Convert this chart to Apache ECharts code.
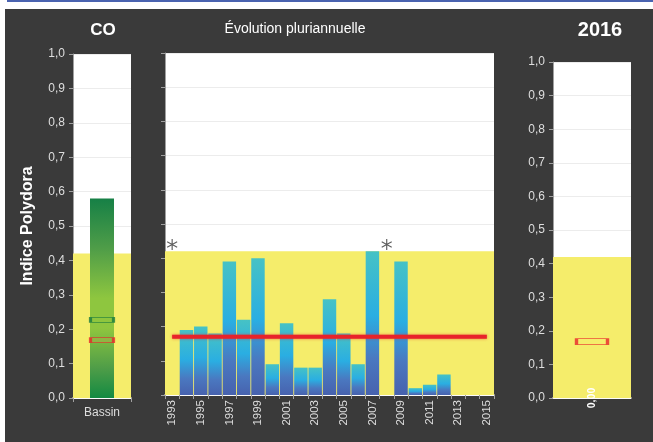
<!DOCTYPE html>
<html>
<head>
<meta charset="utf-8">
<script src="https://cdn.jsdelivr.net/npm/echarts@6/dist/echarts.min.js"></script>
<style>
html,body{margin:0;padding:0;background:#fff;}
#chart{width:653px;height:442px;}
</style>
</head>
<body>
<div id="chart"></div>
<script>
// ---- data ----
const years = ['1993','1994','1995','1996','1997','1998','1999','2000','2001','2002','2003','2004','2005','2006','2007','2008','2009','2010','2011','2012','2013','2014','2015'];
const annualValues = [null,0.19,0.20,0.18,0.39,0.22,0.40,0.09,0.21,0.08,0.08,0.28,0.18,0.09,0.42,null,0.39,0.02,0.03,0.06,null,null,null];
const missingYears = ['1993','2008'];
const missingMarkerLevel = 0.44;
const medianValue = 0.17;
const thresholdValue = 0.42;
const basinCategories = ['Bassin'];
const basinBar = [0.58];
const basinGreenMark = [0.227];
const basinRedMark = [0.168];
const currentCategories = [''];
const currentValue = [0.00];
const currentRedMark = [0.168];

const chart = echarts.init(document.getElementById('chart'));
const fmt1 = v => v.toFixed(1).replace('.', ',');
const yellow = '#f5ed6b';
const axisGrey = '#a0a0a0';
const labelCol = '#dedede';

function yAxisCfg(gi, showLabel, extra) {
  return Object.assign({
    gridIndex: gi, type: 'value', min: 0, max: 1, interval: 0.1,
    axisLine: {show: true, lineStyle: {color: axisGrey}},
    axisTick: {show: true, length: 4, lineStyle: {color: axisGrey}},
    axisLabel: {show: showLabel, color: labelCol, fontSize: 12, margin: 8, formatter: fmt1},
    splitLine: {show: true, lineStyle: {color: '#ececec', width: 1}}
  }, extra || {});
}

const barGradient = new echarts.graphic.LinearGradient(0, 0, 0, 1, [
  {offset: 0, color: '#46c2c5'},
  {offset: 0.45, color: '#2aaee2'},
  {offset: 0.75, color: '#4a78c0'},
  {offset: 1, color: '#4762ae'}
]);
const greenGradient = new echarts.graphic.LinearGradient(0, 0, 0, 1, [
  {offset: 0, color: '#168046'},
  {offset: 0.25, color: '#4f9d48'},
  {offset: 0.5, color: '#8ec63f'},
  {offset: 0.65, color: '#8ec63f'},
  {offset: 0.85, color: '#4f9d48'},
  {offset: 1, color: '#138a42'}
]);

const asteriskPath = 'path://M5,0 L5,10 M0.7,2.5 L9.3,7.5 M0.7,7.5 L9.3,2.5';

function band(xi, yi, n) {
  return {
    type: 'line', xAxisIndex: xi, yAxisIndex: yi, z: 1, silent: true,
    data: new Array(n).fill('-'), showSymbol: false, lineStyle: {width: 0},
    markArea: {silent: true, itemStyle: {color: yellow, opacity: 1}, data: [[{yAxis: 0}, {yAxis: thresholdValue}]]}
  };
}

const option = {
  animation: false,
  backgroundColor: '#fff',
  textStyle: {fontFamily: '"Liberation Sans", Arial, sans-serif'},
  graphic: [
    {type: 'rect', left: 7, top: 0, z: -10, shape: {width: 646, height: 2}, style: {fill: '#4a63b0'}},
    {type: 'rect', left: 5, top: 9, z: -10, shape: {width: 648, height: 433}, style: {fill: '#3a3a3a'}},
    {type: 'text', x: 103, y: 30, style: {text: 'CO', fill: '#fff', font: 'bold 17px "Liberation Sans", Arial', textAlign: 'center', textVerticalAlign: 'middle'}},
    {type: 'text', x: 295, y: 29, style: {text: 'Évolution pluriannuelle', fill: '#fff', font: '14px "Liberation Sans", Arial', textAlign: 'center', textVerticalAlign: 'middle'}},
    {type: 'text', x: 600, y: 30, style: {text: '2016', fill: '#fff', font: 'bold 20px "Liberation Sans", Arial', textAlign: 'center', textVerticalAlign: 'middle'}}
  ],
  grid: [
    {left: 73, top: 54, width: 58, height: 344, show: true, backgroundColor: '#fff', borderWidth: 0},
    {left: 165, top: 53, width: 329, height: 342, show: true, backgroundColor: '#fff', borderWidth: 0},
    {left: 553, top: 62, width: 78, height: 336, show: true, backgroundColor: '#fff', borderWidth: 0}
  ],
  xAxis: [
    {gridIndex: 0, type: 'category', data: basinCategories,
     axisLine: {lineStyle: {color: '#fff', width: 1.5}},
     axisTick: {show: true, length: 4, lineStyle: {color: axisGrey}},
     axisLabel: {color: labelCol, fontSize: 12, margin: 9}},
    {gridIndex: 1, type: 'category', data: years,
     axisLine: {lineStyle: {color: '#fff', width: 1.5}},
     axisTick: {show: true, interval: 0, length: 4, lineStyle: {color: axisGrey}},
     axisLabel: {color: labelCol, fontSize: 11.5, rotate: 90, interval: 1, margin: 5}},
    {gridIndex: 2, type: 'category', data: currentCategories,
     axisLine: {lineStyle: {color: '#fff', width: 1.5}},
     axisTick: {show: false}, axisLabel: {show: false}}
  ],
  yAxis: [
    yAxisCfg(0, true, {name: 'Indice Polydora', nameLocation: 'middle', nameGap: 37,
      nameTextStyle: {color: '#fff', fontSize: 16, fontWeight: 'bold'}}),
    yAxisCfg(1, false),
    yAxisCfg(2, true)
  ],
  series: [
    band(0, 0, 1),
    band(1, 1, years.length),
    band(2, 2, 1),
    {type: 'bar', xAxisIndex: 0, yAxisIndex: 0, z: 2, data: basinBar, barWidth: 24,
     itemStyle: {color: greenGradient}},
    {type: 'scatter', xAxisIndex: 0, yAxisIndex: 0, z: 4, data: basinGreenMark, symbol: 'rect', symbolSize: [23, 5],
     itemStyle: {color: '#8ec63f', borderColor: '#1a7a3e', borderWidth: 1.5}},
    {type: 'scatter', xAxisIndex: 0, yAxisIndex: 0, z: 4, data: basinRedMark, symbol: 'rect', symbolSize: [23, 5],
     itemStyle: {color: '#93b545', borderColor: '#e8262a', borderWidth: 1.5}},
    {type: 'bar', xAxisIndex: 1, yAxisIndex: 1, z: 2, data: annualValues.map(v => v === null ? '-' : v),
     barCategoryGap: '6%', itemStyle: {color: barGradient}},
    {type: 'line', xAxisIndex: 1, yAxisIndex: 1, z: 5, data: years.map(() => medianValue),
     showSymbol: false, symbol: 'none',
     lineStyle: {color: '#e8232a', width: 4, shadowBlur: 3, shadowColor: 'rgba(232,35,42,0.6)'}},
    {type: 'scatter', xAxisIndex: 1, yAxisIndex: 1, z: 5,
     data: years.map(y => missingYears.includes(y) ? missingMarkerLevel : '-'),
     symbol: asteriskPath, symbolSize: [10, 11],
     itemStyle: {color: 'rgba(0,0,0,0)', borderColor: '#333', borderWidth: 1.2}},
    {type: 'bar', xAxisIndex: 2, yAxisIndex: 2, z: 2, data: currentValue, barWidth: 30,
     itemStyle: {color: '#8ec63f'},
     label: {show: true, position: 'inside', rotate: 90, color: '#fff', fontSize: 10.5, fontWeight: 'bold',
       formatter: p => p.value.toFixed(2).replace('.', ',')}},
    {type: 'scatter', xAxisIndex: 2, yAxisIndex: 2, z: 4, data: currentRedMark, symbol: 'rect', symbolSize: [31, 6],
     itemStyle: {color: yellow, borderColor: '#e8262a', borderWidth: 1.5}}
  ]
};
chart.setOption(option);
</script>
</body>
</html>
